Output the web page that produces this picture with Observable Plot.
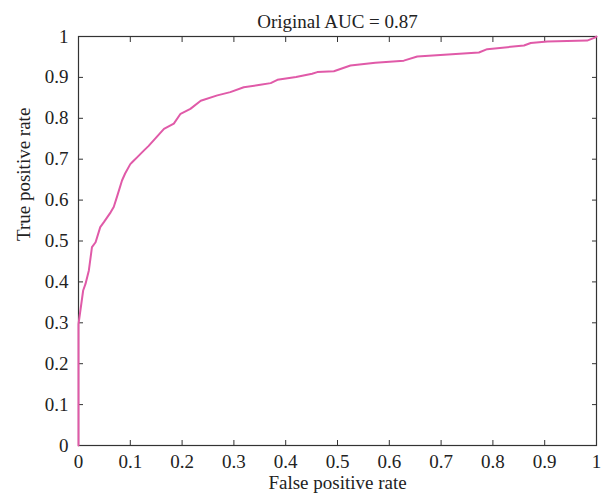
<!DOCTYPE html>
<html>
<head>
<meta charset="utf-8">
<script src="https://cdn.jsdelivr.net/npm/d3@7"></script>
<script src="https://cdn.jsdelivr.net/npm/@observablehq/plot@0.6"></script>
<style>
  html, body { margin: 0; padding: 0; background: #fff; }
</style>
</head>
<body>
<div id="chart"></div>
<script>
const titleText = "Original AUC = 0.87";
const xLabel = "False positive rate";
const yLabel = "True positive rate";

const fpr = [0, 0, 0.009, 0.0135, 0.02, 0.026, 0.033, 0.042, 0.049, 0.062, 0.068, 0.075, 0.084, 0.09, 0.1, 0.104, 0.115, 0.126, 0.135, 0.145, 0.155, 0.165, 0.184, 0.197, 0.216, 0.236, 0.268, 0.293, 0.319, 0.351, 0.371, 0.384, 0.42, 0.451, 0.461, 0.493, 0.525, 0.573, 0.628, 0.654, 0.773, 0.789, 0.86, 0.873, 0.905, 0.982, 0.998, 1];
const tpr = [0, 0.297, 0.379, 0.395, 0.428, 0.485, 0.497, 0.534, 0.546, 0.570, 0.583, 0.611, 0.648, 0.665, 0.688, 0.693, 0.707, 0.721, 0.732, 0.746, 0.760, 0.774, 0.787, 0.811, 0.823, 0.843, 0.856, 0.864, 0.876, 0.882, 0.886, 0.894, 0.901, 0.909, 0.913, 0.915, 0.929, 0.936, 0.941, 0.951, 0.961, 0.969, 0.978, 0.984, 0.988, 0.990, 0.998, 1];

const xTicks = [0, 0.1, 0.2, 0.3, 0.4, 0.5, 0.6, 0.7, 0.8, 0.9, 1];
const yTicks = [0, 0.1, 0.2, 0.3, 0.4, 0.5, 0.6, 0.7, 0.8, 0.9, 1];

const roc = fpr.map((x, i) => ({x, y: tpr[i]}));
const fmt = d => String(d);
const axisColor = "#333";

const chart = Plot.plot({
  width: 608,
  height: 502,
  marginLeft: 78,
  marginRight: 12,
  marginTop: 36,
  marginBottom: 57,
  style: {fontFamily: "'Liberation Serif', 'Times New Roman', serif", fontSize: "19px", color: "#222", background: "#fff"},
  x: {domain: [0, 1]},
  y: {domain: [0, 1]},
  marks: [
    Plot.frame({stroke: axisColor, strokeWidth: 1.2}),
    Plot.axisX(xTicks, {anchor: "bottom", tickSize: -5, tickPadding: 14, tickFormat: fmt, label: null, stroke: axisColor, fill: "#222", fontSize: 19}),
    Plot.axisX(xTicks, {anchor: "top", tickSize: -5, tickFormat: null, text: null, label: null, stroke: axisColor}),
    Plot.axisY(yTicks, {anchor: "left", tickSize: -5, tickPadding: 15, tickFormat: fmt, label: null, stroke: axisColor, fill: "#222", fontSize: 19}),
    Plot.axisY(yTicks, {anchor: "right", tickSize: -5, tickFormat: null, text: null, label: null, stroke: axisColor}),
    Plot.line(roc, {x: "x", y: "y", stroke: "#e05aa8", strokeWidth: 2}),
    Plot.text([titleText], {frameAnchor: "top", dy: -22, text: d => d, fontSize: 19, fill: "#222"}),
    Plot.text([xLabel], {frameAnchor: "bottom", dy: 43, text: d => d, fontSize: 19, fill: "#222"}),
    Plot.text([yLabel], {frameAnchor: "left", dx: -55, rotate: -90, text: d => d, fontSize: 19, fill: "#222"})
  ]
});
document.getElementById("chart").appendChild(chart);
</script>
</body>
</html>
